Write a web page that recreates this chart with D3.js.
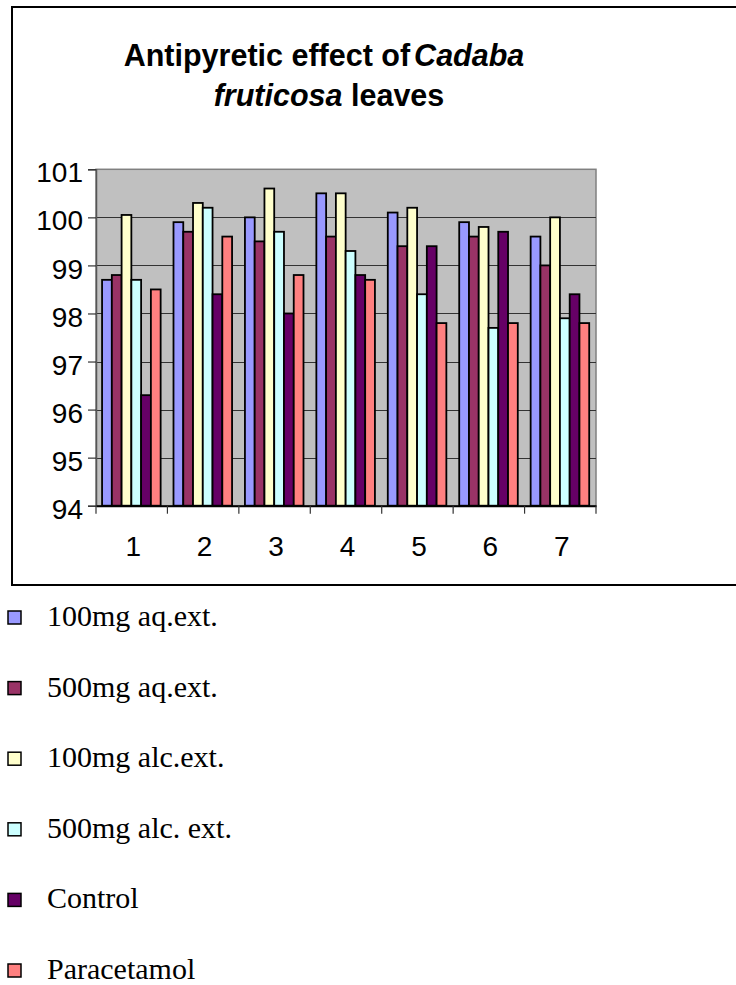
<!DOCTYPE html>
<html>
<head>
<meta charset="utf-8">
<script src="https://cdn.jsdelivr.net/npm/d3@7"></script>
<style>
  html, body { margin: 0; padding: 0; background: #ffffff; }
  svg { display: block; }
</style>
</head>
<body>
<svg id="chart" width="736" height="985"></svg>
<script>
// ---- data ----
const categories = ["1", "2", "3", "4", "5", "6", "7"];
const seriesNames = ["100mg aq.ext.", "500mg aq.ext.", "100mg alc.ext.", "500mg alc. ext.", "Control", "Paracetamol"];
const aq100 = [98.7, 99.9, 100.0, 100.5, 100.1, 99.9, 99.6];
const aq500 = [98.8, 99.7, 99.5, 99.6, 99.4, 99.6, 99.0];
const alc100 = [100.05, 100.3, 100.6, 100.5, 100.2, 99.8, 100.0];
const alc500 = [98.7, 100.2, 99.7, 99.3, 98.4, 97.7, 97.9];
const control = [96.3, 98.4, 98.0, 98.8, 99.4, 99.7, 98.4];
const paracetamol = [98.5, 99.6, 98.8, 98.7, 97.8, 97.8, 97.8];
const yTicks = [94, 95, 96, 97, 98, 99, 100, 101];
const colors = ["#9999FF", "#993366", "#FFFFCC", "#CCFFFF", "#660066", "#FF8080"];

const seriesValues = [aq100, aq500, alc100, alc500, control, paracetamol];

// ---- layout ----
const svg = d3.select("#chart");
const plot = { left: 96, right: 596, top: 169.3, bottom: 505.7 };

// outer chart border
svg.append("rect")
  .attr("x", 12).attr("y", 7)
  .attr("width", 760).attr("height", 578)
  .attr("fill", "#ffffff")
  .attr("stroke", "#000000").attr("stroke-width", 2);

// title
const title = svg.append("g")
  .attr("font-family", "Arial, 'Liberation Sans', sans-serif")
  .attr("font-weight", "bold")
  .attr("font-size", 30.5)
  .attr("fill", "#000");
const t1 = title.append("text").attr("x", 324).attr("y", 66).attr("text-anchor", "middle");
t1.append("tspan").text("Antipyretic effect of");
t1.append("tspan").attr("font-style", "italic").attr("dx", 4).text("Cadaba");
const t2 = title.append("text").attr("x", 329).attr("y", 106).attr("text-anchor", "middle");
t2.append("tspan").attr("font-style", "italic").text("fruticosa");
t2.append("tspan").text(" leaves");

// scales
const y = d3.scaleLinear().domain([94, 101]).range([plot.bottom, plot.top]);
const x0 = d3.scaleBand().domain(categories).range([plot.left, plot.right]).padding(0);
const bw = x0.bandwidth();
const x1 = d3.scaleBand().domain(d3.range(seriesNames.length))
  .range([bw * 0.085, bw * 0.905]).padding(0);

// plot background
svg.append("rect")
  .attr("x", plot.left).attr("y", plot.top)
  .attr("width", plot.right - plot.left).attr("height", plot.bottom - plot.top)
  .attr("fill", "#C0C0C0")
  .attr("stroke", "#808080").attr("stroke-width", 1.5);

// gridlines
svg.append("g").selectAll("line")
  .data(yTicks.filter(d => d !== 94 && d !== 101))
  .join("line")
  .attr("x1", plot.left).attr("x2", plot.right)
  .attr("y1", d => Math.round(y(d)) + 0.5).attr("y2", d => Math.round(y(d)) + 0.5)
  .attr("stroke", "#333333").attr("stroke-width", 1.2);

// bars
const groups = svg.append("g").selectAll("g")
  .data(categories.map((c, i) => ({ c, i })))
  .join("g")
  .attr("transform", d => `translate(${x0(d.c)},0)`);

groups.selectAll("rect")
  .data(d => seriesValues.map((vals, s) => ({ s, v: vals[d.i] })))
  .join("rect")
  .attr("x", d => x1(d.s))
  .attr("width", x1.bandwidth())
  .attr("y", d => y(d.v))
  .attr("height", d => y(94) - y(d.v))
  .attr("fill", d => colors[d.s])
  .attr("stroke", "#000000")
  .attr("stroke-width", 1.8);

// y axis
const yAxis = d3.axisLeft(y).tickValues(yTicks).tickSize(8).tickPadding(5).tickFormat(d3.format("d"));
const gy = svg.append("g").attr("transform", `translate(${plot.left},0)`).call(yAxis);
gy.select(".domain").attr("stroke", "#555555").attr("stroke-width", 1.5);
gy.selectAll(".tick line").attr("stroke", "#333333").attr("stroke-width", 1.2);
gy.selectAll(".tick text")
  .attr("font-family", "Arial, 'Liberation Sans', sans-serif")
  .attr("font-size", 28)
  .attr("fill", "#000")
  .attr("dy", "0.45em");

// x axis
const xAxis = d3.axisBottom(x0).tickSize(0).tickPadding(0);
const gx = svg.append("g").attr("transform", `translate(0,${plot.bottom})`).call(xAxis);
gx.select(".domain").attr("stroke", "#000000").attr("stroke-width", 2);
gx.selectAll(".tick text")
  .attr("font-family", "Arial, 'Liberation Sans', sans-serif")
  .attr("font-size", 28)
  .attr("fill", "#000")
  .attr("y", 50).attr("dy", 0).attr("dx", 1.5);
// x tick marks at category boundaries
svg.append("g").selectAll("line")
  .data(categories.map(c => x0(c)).concat([x0(categories[categories.length - 1]) + bw]))
  .join("line")
  .attr("x1", d => d).attr("x2", d => d)
  .attr("y1", plot.bottom).attr("y2", plot.bottom + 8)
  .attr("stroke", "#333333").attr("stroke-width", 1.2);

// legend
const legend = svg.append("g");
const legendRows = legend.selectAll("g")
  .data(seriesNames.map((n, i) => ({ n, i })))
  .join("g")
  .attr("transform", d => `translate(0,${626 + d.i * 70.6})`);
legendRows.append("rect")
  .attr("x", 8).attr("y", -15)
  .attr("width", 13).attr("height", 13)
  .attr("fill", d => colors[d.i])
  .attr("stroke", "#000").attr("stroke-width", 1.5);
legendRows.append("text")
  .attr("x", 47).attr("y", 0)
  .attr("font-family", "'Times New Roman', 'Liberation Serif', serif")
  .attr("font-size", 30)
  .attr("fill", "#000")
  .text(d => d.n);
</script>
</body>
</html>
